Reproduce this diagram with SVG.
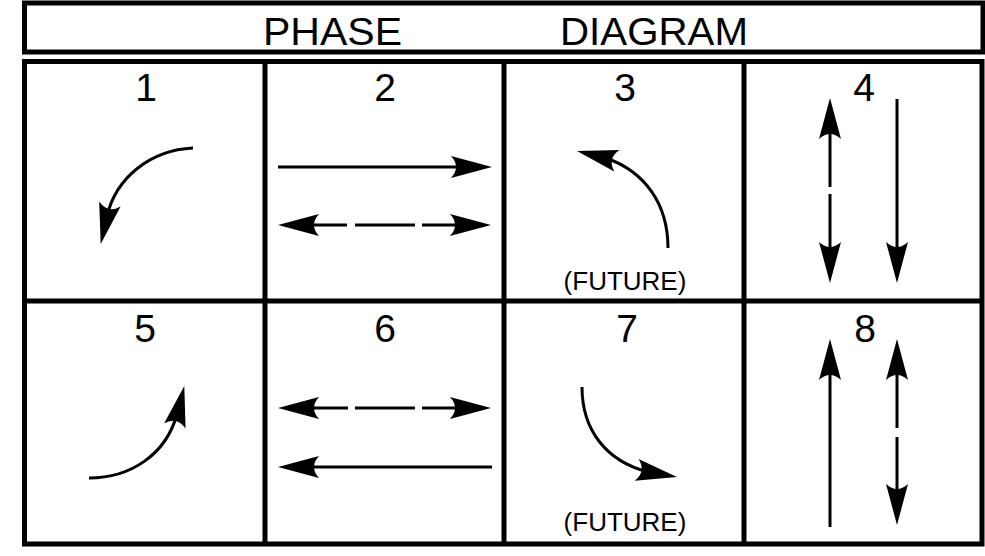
<svg xmlns="http://www.w3.org/2000/svg" xmlns:xlink="http://www.w3.org/1999/xlink" width="985" height="556" viewBox="0 0 985 556">
<style>
.frame{fill:none;stroke:#000;stroke-width:5}
.ln{fill:none;stroke:#000;stroke-width:3}
.num{font-family:"Liberation Sans",Arial,sans-serif;font-size:39px;fill:#000;text-anchor:middle}
.ttl{font-family:"Liberation Sans",Arial,sans-serif;font-size:38px;fill:#000}
.fut{font-family:"Liberation Sans",Arial,sans-serif;font-size:26px;fill:#000;text-anchor:middle}
.ah{fill:#000}
</style>
<defs>
<path id="ah" class="ah" d="M0,0 L-41,-11 Q-31,0 -41,11 Z"/>
</defs>
<rect width="985" height="556" fill="#fff"/>
<g id="title">
<rect class="frame" x="24.5" y="3" width="958.5" height="49"/>
<text class="ttl" x="263" y="45" textLength="139" lengthAdjust="spacingAndGlyphs">PHASE</text>
<text class="ttl" x="560" y="45" textLength="188" lengthAdjust="spacingAndGlyphs">DIAGRAM</text>
</g>
<g id="grid">
<rect class="frame" x="24.5" y="61.5" width="957.5" height="482.5"/>
<line class="frame" x1="265" y1="61.5" x2="265" y2="544"/>
<line class="frame" x1="504" y1="61.5" x2="504" y2="544"/>
<line class="frame" x1="744" y1="61.5" x2="744" y2="544"/>
<line class="frame" x1="24.5" y1="301" x2="982" y2="301"/>
</g>
<g id="phase1">
<text class="num" x="146" y="101">1</text>
</g>
<g id="phase2">
<text class="num" x="385" y="101">2</text>
</g>
<g id="phase3">
<text class="num" x="625" y="101">3</text>
<text class="fut" x="625" y="290">(FUTURE)</text>
</g>
<g id="phase4">
<text class="num" x="864" y="101">4</text>
</g>
<g id="phase5">
<text class="num" x="145" y="342">5</text>
</g>
<g id="phase6">
<text class="num" x="385" y="342">6</text>
</g>
<g id="phase7">
<text class="num" x="627" y="342">7</text>
<text class="fut" x="625" y="531">(FUTURE)</text>
</g>
<g id="phase8">
<text class="num" x="865" y="342">8</text>
</g>
<g id="connectors">
<!-- phase 1 -->
<path class="ln" d="M193,148 C150,150 116,178 107,216"/>
<use xlink:href="#ah" href="#ah" transform="translate(100.7,244) rotate(103)"/>
<!-- phase 2 -->
<line class="ln" x1="278" y1="167" x2="465" y2="167"/>
<use xlink:href="#ah" href="#ah" transform="translate(492,167)"/>
<line class="ln" x1="300" y1="225" x2="347" y2="225"/>
<line class="ln" x1="355" y1="225" x2="415" y2="225"/>
<line class="ln" x1="422" y1="225" x2="468" y2="225"/>
<use xlink:href="#ah" href="#ah" transform="translate(278,225) rotate(180)"/>
<use xlink:href="#ah" href="#ah" transform="translate(491,225)"/>
<!-- phase 3 -->
<path class="ln" d="M668,248 C668,205 646,172 606,158"/>
<use xlink:href="#ah" href="#ah" transform="translate(577,151) rotate(193.7)"/>
<!-- phase 4 -->
<line class="ln" x1="830" y1="120" x2="830" y2="187"/>
<line class="ln" x1="830" y1="194" x2="830" y2="262"/>
<use xlink:href="#ah" href="#ah" transform="translate(830,98) rotate(-90)"/>
<use xlink:href="#ah" href="#ah" transform="translate(830,283) rotate(90)"/>
<line class="ln" x1="897" y1="99" x2="897" y2="260"/>
<use xlink:href="#ah" href="#ah" transform="translate(897,283) rotate(90)"/>
<!-- phase 5 -->
<path class="ln" d="M89,478 C130,478 166,455 177,414"/>
<use xlink:href="#ah" href="#ah" transform="translate(184.3,386) rotate(-76.7)"/>
<!-- phase 6 -->
<line class="ln" x1="300" y1="408" x2="348" y2="408"/>
<line class="ln" x1="355" y1="408" x2="415" y2="408"/>
<line class="ln" x1="422" y1="408" x2="468" y2="408"/>
<use xlink:href="#ah" href="#ah" transform="translate(278,408) rotate(180)"/>
<use xlink:href="#ah" href="#ah" transform="translate(491,408)"/>
<line class="ln" x1="305" y1="467" x2="492" y2="467"/>
<use xlink:href="#ah" href="#ah" transform="translate(278,467) rotate(180)"/>
<!-- phase 7 -->
<path class="ln" d="M582,387 C582,430 606,461 648,472"/>
<use xlink:href="#ah" href="#ah" transform="translate(677,477) rotate(10)"/>
<!-- phase 8 -->
<line class="ln" x1="830" y1="360" x2="830" y2="527"/>
<use xlink:href="#ah" href="#ah" transform="translate(830,339) rotate(-90)"/>
<line class="ln" x1="897" y1="360" x2="897" y2="428"/>
<line class="ln" x1="897" y1="437" x2="897" y2="503"/>
<use xlink:href="#ah" href="#ah" transform="translate(897,339) rotate(-90)"/>
<use xlink:href="#ah" href="#ah" transform="translate(897,525) rotate(90)"/>
</g>
</svg>
